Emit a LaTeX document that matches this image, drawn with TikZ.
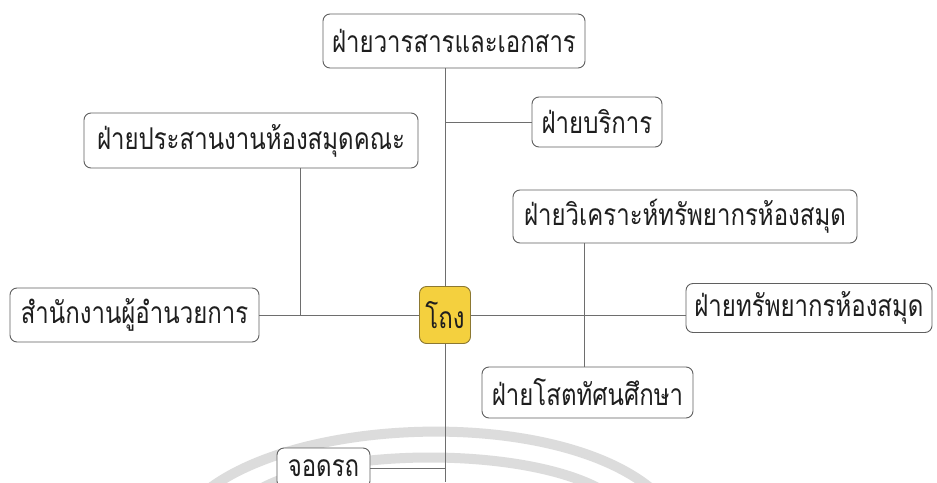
\documentclass[tikz,border=0pt]{standalone}
\usepackage{fontspec}
\newfontfamily\thaifont[Script=Thai,FakeStretch=0.8]{Loma}
\definecolor{boxline}{RGB}{95,95,95}
\definecolor{connline}{RGB}{110,110,110}
\definecolor{hallfill}{RGB}{244,208,62}
\definecolor{hallline}{RGB}{140,120,50}
\definecolor{wmark}{RGB}{220,220,220}
\definecolor{txt}{RGB}{30,30,30}
\begin{document}
\begin{tikzpicture}[x=1pt,y=-1pt,
  unitbox/.style={draw=boxline, line width=0.9pt, rounded corners=7pt, fill=white,
    font=\thaifont\fontsize{30}{34}\selectfont, text=txt, inner sep=0pt, anchor=center},
  hallbox/.style={unitbox, fill=hallfill, draw=hallline},
  conn/.style={draw=connline, line width=0.8pt},
  wm/.style={draw=wmark, line width=10pt}]
\useasboundingbox (0,0) rectangle (937,482);
\fill[white] (0,0) rectangle (937,482);
% watermark arcs
\draw[wm] (205,492) .. controls (300,415) and (560,408) .. (655,492);
\draw[wm] (255,492) .. controls (330,446) and (530,446) .. (605,492);
% nodes
\node[unitbox, minimum width=262pt, minimum height=54pt] (varasarn) at (454,41) {ฝ่ายวารสารและเอกสาร};
\node[unitbox, minimum width=130pt, minimum height=50pt] (borikan) at (597,122) {ฝ่ายบริการ};
\node[unitbox, minimum width=334pt, minimum height=55pt] (prasan) at (251,140.5) {ฝ่ายประสานงานห้องสมุดคณะ};
\node[unitbox, minimum width=344pt, minimum height=53pt] (wikhro) at (685,216.5) {ฝ่ายวิเคราะห์ทรัพยากรห้องสมุด};
\node[unitbox, minimum width=249pt, minimum height=54pt] (samnak) at (134.5,315) {สำนักงานผู้อำนวยการ};
\node[hallbox, minimum width=51pt, minimum height=57pt] (hall) at (445,315) {โถง};
\node[unitbox, minimum width=246pt, minimum height=49pt] (sap) at (809,308) {ฝ่ายทรัพยากรห้องสมุด};
\node[unitbox, minimum width=211pt, minimum height=51pt] (sot) at (587.5,392.5) {ฝ่ายโสตทัศนศึกษา};
\node[unitbox, minimum width=93pt, minimum height=40pt] (jotrot) at (323.5,468) {จอดรถ};
% coordinates
\coordinate (bot) at (445,482);
\coordinate (pj) at (300,315);
\coordinate (wx) at (584,0);
% connectors
\draw[conn] (hall.north) -- (hall.north |- varasarn.south);
\draw[conn] (hall.south) -- (bot);
\draw[conn] (borikan.west) -- (borikan.west -| hall);
\draw[conn] (samnak.east) -- (hall.west);
\draw[conn] (pj) -- (pj |- prasan.south);
\draw[conn] (hall.east) -- (hall.east -| sap.west);
\draw[conn] (wx |- sot.north) -- (wx |- wikhro.south);
\draw[conn] (jotrot.east) -- (jotrot.east -| hall);
\end{tikzpicture}
\end{document}
